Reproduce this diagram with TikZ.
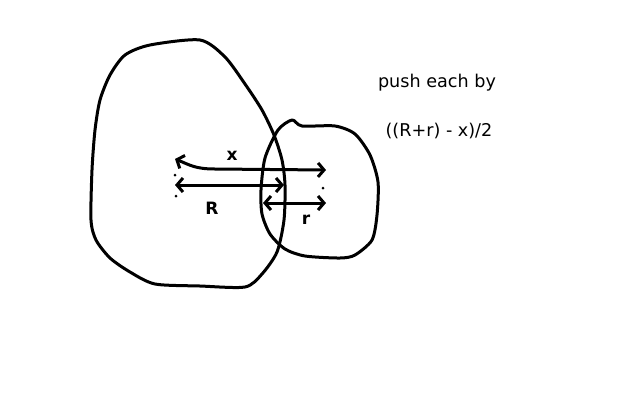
\documentclass[tikz,border=0pt]{standalone}
\usepackage{fontspec}
\setmainfont{DejaVu Sans}
\usetikzlibrary{arrows.meta}
\begin{document}
\begin{tikzpicture}[x=1pt,y=-1pt,
  ink/.style={line width=3pt,line cap=round,line join=round},
  barb/.style={ink,{Straight Barb[length=6pt,width=14pt]}-{Straight Barb[length=6pt,width=14pt]}},
  lbl/.style={font=\bfseries\fontsize{17}{17}\selectfont,inner sep=0pt},
  txt/.style={font=\fontsize{17.6}{17.6}\selectfont,inner sep=0pt}]
\useasboundingbox (0,0) rectangle (640,400);
\fill[white] (0,0) rectangle (640,400);
% big blob
\draw[ink] plot[smooth cycle,tension=0.45] coordinates {
 (200,40) (150,45) (125,55) (110,75) (100,100) (95,130) (92,170) (91,220)
 (96,240) (110,258) (130,272) (155,284) (200,286) (245,287) (262,274) (277,252)
 (284,220) (285,185) (282,160) (274,135) (262,110) (245,84) (225,57)};
% small blob
\draw[ink] plot[smooth cycle,tension=0.45] coordinates {
 (292,120) (302,126) (335,126) (355,134) (370,155) (378,182) (377,215)
 (372,240) (355,255) (340,258) (305,256) (285,249) (270,234) (262,214)
 (261,190) (265,158) (278,130)};
% arrows
\coordinate (xl) at (175,159);
\coordinate (xr) at (326,170);
\coordinate (Rl) at (175,185);
\coordinate (Rr) at (284,185);
\coordinate (rl) at (263,203);
\coordinate (rr) at (326,203);
\draw[barb] (xl) .. controls (190,165) and (195,169) .. (215,169) -- (xr);
\draw[barb] (Rl) -- (Rr);
\draw[barb] (rl) -- (rr);
% dots
\fill (175,175) circle (1.5pt);
\fill (176,196) circle (1.5pt);
\fill (323,188) circle (1.5pt);
% labels
\node[lbl] (lx) at (232,156) {x};
\node[lbl] (lR) at (212,208) {R};
\node[lbl] (lr) at (306,220) {r};
\node[txt] (t1) at (437,83) {push each by};
\node[txt] (t2) at (439,131) {((R+r) - x)/2};
\end{tikzpicture}
\end{document}
